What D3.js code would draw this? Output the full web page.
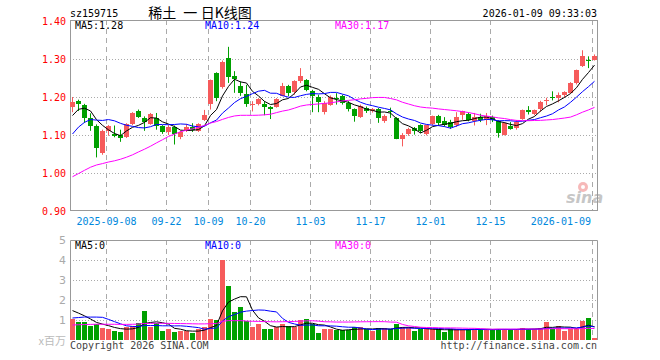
<!DOCTYPE html>
<html>
<head>
<meta charset="utf-8">
<script src="https://cdn.jsdelivr.net/npm/d3@7/dist/d3.min.js"></script>
<style>
  body { margin: 0; background: #fff; }
  svg text { font-family: "DejaVu Sans Mono", monospace; font-size: 10px; }
</style>
</head>
<body>
<svg id="chart" width="660" height="360"></svg>
<script>
// trading sessions shown on the chart
var dates = [
  '2025-08-29',
  '2025-09-01','2025-09-02','2025-09-03','2025-09-04','2025-09-05',
  '2025-09-08','2025-09-09','2025-09-10','2025-09-11','2025-09-12',
  '2025-09-15','2025-09-16','2025-09-17','2025-09-18','2025-09-19',
  '2025-09-22','2025-09-23','2025-09-24','2025-09-25','2025-09-26',
  '2025-09-29','2025-09-30','2025-10-09','2025-10-10',
  '2025-10-13','2025-10-14','2025-10-15','2025-10-16','2025-10-17',
  '2025-10-20','2025-10-21','2025-10-22','2025-10-23','2025-10-24',
  '2025-10-27','2025-10-28','2025-10-29','2025-10-30','2025-10-31',
  '2025-11-03','2025-11-04','2025-11-05','2025-11-06','2025-11-07',
  '2025-11-10','2025-11-11','2025-11-12','2025-11-13','2025-11-14',
  '2025-11-17','2025-11-18','2025-11-19','2025-11-20','2025-11-21',
  '2025-11-24','2025-11-25','2025-11-26','2025-11-27','2025-11-28',
  '2025-12-01','2025-12-02','2025-12-03','2025-12-04','2025-12-05',
  '2025-12-08','2025-12-09','2025-12-10','2025-12-11','2025-12-12',
  '2025-12-15','2025-12-16','2025-12-17','2025-12-18','2025-12-19',
  '2025-12-22','2025-12-23','2025-12-24','2025-12-25','2025-12-26',
  '2025-12-29','2025-12-30','2025-12-31',
  '2026-01-05','2026-01-06','2026-01-07','2026-01-08','2026-01-09'
];

var open = [1.173,1.189,1.180,1.145,1.123,1.053,1.111,1.103,1.101,1.094,
  1.129,1.164,1.146,1.129,1.145,1.123,1.108,1.121,1.094,1.110,
  1.120,1.110,1.140,1.180,1.263,1.225,1.303,1.256,1.228,1.209,
  1.178,1.182,1.182,1.174,1.173,1.204,1.230,1.213,1.241,1.244,
  1.215,1.199,1.160,1.180,1.197,1.202,1.184,1.168,1.147,1.171,
  1.162,1.168,1.139,1.164,1.145,1.090,1.104,1.118,1.125,1.101,
  1.127,1.151,1.136,1.133,1.125,1.151,1.156,1.136,1.147,1.139,
  1.147,1.136,1.101,1.123,1.116,1.142,1.167,1.156,1.168,1.192,
  1.201,1.195,1.204,1.212,1.235,1.282,1.297,1.298];
var high = [1.200,1.193,1.182,1.157,1.128,1.114,1.126,1.125,1.114,1.131,
  1.160,1.167,1.149,1.158,1.158,1.126,1.126,1.125,1.111,1.129,
  1.131,1.131,1.166,1.246,1.265,1.296,1.332,1.268,1.241,1.232,
  1.189,1.197,1.189,1.176,1.197,1.237,1.232,1.244,1.276,1.247,
  1.219,1.206,1.189,1.204,1.210,1.206,1.189,1.170,1.180,1.175,
  1.171,1.171,1.154,1.172,1.147,1.105,1.119,1.121,1.128,1.127,
  1.151,1.153,1.147,1.140,1.160,1.164,1.159,1.158,1.156,1.158,
  1.151,1.139,1.134,1.134,1.139,1.167,1.176,1.167,1.190,1.198,
  1.215,1.212,1.215,1.239,1.272,1.323,1.307,1.312];
var low = [1.160,1.163,1.132,1.111,1.041,1.048,1.098,1.094,1.082,1.092,
  1.126,1.145,1.111,1.127,1.114,1.103,1.100,1.075,1.089,1.108,
  1.108,1.108,1.137,1.167,1.189,1.222,1.237,1.211,1.203,1.174,
  1.162,1.178,1.152,1.142,1.172,1.202,1.202,1.206,1.237,1.215,
  1.160,1.160,1.154,1.177,1.180,1.180,1.162,1.135,1.145,1.158,
  1.159,1.132,1.132,1.145,1.089,1.070,1.098,1.101,1.105,1.099,
  1.125,1.125,1.122,1.116,1.121,1.140,1.136,1.125,1.134,1.126,
  1.134,1.093,1.099,1.114,1.114,1.140,1.154,1.152,1.161,1.178,
  1.191,1.186,1.198,1.209,1.233,1.279,1.276,1.296];
var close = [1.186,1.182,1.145,1.123,1.066,1.111,1.123,1.097,1.094,1.129,
  1.158,1.149,1.136,1.155,1.125,1.108,1.120,1.103,1.108,1.120,
  1.111,1.129,1.153,1.244,1.197,1.291,1.254,1.247,1.210,1.182,
  1.181,1.194,1.175,1.169,1.195,1.230,1.212,1.241,1.254,1.218,
  1.202,1.186,1.183,1.200,1.195,1.184,1.168,1.149,1.177,1.162,
  1.168,1.145,1.151,1.162,1.090,1.101,1.116,1.110,1.110,1.125,
  1.149,1.133,1.125,1.121,1.147,1.162,1.139,1.147,1.139,1.149,
  1.139,1.104,1.132,1.116,1.133,1.165,1.163,1.167,1.187,1.193,
  1.199,1.204,1.212,1.237,1.270,1.309,1.294,1.309];

// volume, millions of shares
var volume = [1.03,0.92,0.92,0.72,0.80,0.62,0.53,0.47,0.42,0.67,
  0.70,0.87,1.47,0.67,0.83,0.47,0.53,0.42,0.45,0.45,
  0.37,0.53,0.67,1.07,1.00,4.02,2.72,1.42,1.67,0.97,
  0.67,0.80,0.57,0.57,0.63,0.80,0.72,0.63,1.00,1.05,
  0.78,0.37,0.53,0.53,0.50,0.50,0.50,0.63,0.63,0.53,
  0.47,0.60,0.58,0.53,0.80,0.63,0.63,0.45,0.53,0.58,
  0.53,0.53,0.40,0.53,0.55,0.55,0.53,0.52,0.53,0.55,
  0.50,0.55,0.50,0.52,0.55,0.60,0.53,0.55,0.60,0.90,
  0.57,0.70,0.47,0.57,0.57,0.97,1.10,0.10];

// 29 sessions before the window, only used to warm up the moving averages
// (estimated back from where the MA lines start on the left edge)
var prevClose = [0.93,0.89,0.88,0.89,1.00,1.00,1.00,0.97,0.97,0.97,
  0.92,0.92,0.92,0.86,0.86,0.86,0.92,0.92,1.00,1.00,
  1.00,1.02,1.05,1.08,1.12,1.10,1.13,1.16,1.18];
var prevVolume = [0.55,0.60,0.50,0.58,0.62,0.55,0.50,0.60,0.65,0.55,
  0.52,0.60,0.58,0.55,0.62,0.60,0.55,0.58,0.60,0.60,
  0.70,0.65,0.75,0.80,0.75,1.55,1.60,1.50,1.67];

var priceTicks = [1.40, 1.30, 1.20, 1.10, 1.00, 0.90];
var volTicks = [1, 2, 3, 4, 5];
var dateTicks = ['2025-09-08','2025-09-22','2025-10-09','2025-10-20','2025-11-03',
  '2025-11-17','2025-12-01','2025-12-15','2026-01-09'];
var dateTickLabels = ['2025-09-08','09-22','10-09','10-20','11-03',
  '11-17','12-01','12-15','2026-01-09'];

var UP = '#f65b5b', DOWN = '#00a000', GRID = '#aaa', FRAME = '#999';
var maColors = {5: '#000', 10: '#0000ff', 30: '#ff00ff'};

function movingAvg(prev, vals, n) {
  var all = prev.concat(vals);
  return vals.map(function(v, i) {
    var j = i + prev.length;
    return d3.mean(all.slice(j - n + 1, j + 1));
  });
}

var svg = d3.select('#chart');
var left = 70, right = 597;

var x = d3.scaleBand().domain(dates).range([left, right])
  .paddingInner(1/6).paddingOuter(0);
var y = d3.scaleLinear().domain([0.9, 1.4]).range([211, 21]);
var yv = d3.scaleLinear().domain([0, 5]).range([340, 240]);
var cx = function(d) { return x(d) + x.bandwidth() / 2; };
var crisp = function(v) { return Math.round(v) + 0.5; };

// header
svg.append('text').attr('x', 70).attr('y', 16.5).text('sz159715');
svg.append('text').attr('x', 200).attr('y', 17.5)
  .attr('text-anchor', 'middle')
  .style('font-family', '"Noto Sans CJK SC", sans-serif').style('font-size', '14px')
  .style('white-space', 'pre')
  .text('稀土\u2002一\u2005日K线图');
svg.append('text').attr('x', right).attr('y', 16.5)
  .attr('text-anchor', 'end').text('2026-01-09 09:33:03');

// grids
var grid = svg.append('g').attr('class', 'grid');
grid.selectAll('line.hp').data(priceTicks.slice(1, -1)).enter()
  .append('line').attr('class', 'hp')
  .attr('x1', left).attr('x2', right)
  .attr('y1', function(d) { return crisp(y(d)); })
  .attr('y2', function(d) { return crisp(y(d)); })
  .attr('stroke', GRID).attr('stroke-dasharray', '1,2');
grid.selectAll('line.hv').data(volTicks.slice(0, -1)).enter()
  .append('line').attr('class', 'hv')
  .attr('x1', left).attr('x2', right)
  .attr('y1', function(d) { return crisp(yv(d)); })
  .attr('y2', function(d) { return crisp(yv(d)); })
  .attr('stroke', GRID).attr('stroke-dasharray', '1,2');
[[20, 211], [240, 340]].forEach(function(r) {
  grid.selectAll(null).data(dateTicks).enter()
    .append('line')
    .attr('x1', function(d) { return x(d) + 0.5; })
    .attr('x2', function(d) { return x(d) + 0.5; })
    .attr('y1', r[0]).attr('y2', r[1])
    .attr('stroke', GRID).attr('stroke-dasharray', '5,4');
});

// frames
svg.append('rect').attr('x', left + 0.5).attr('y', 20.5)
  .attr('width', right - left).attr('height', 190)
  .attr('fill', 'none').attr('stroke', FRAME);
svg.append('path')
  .attr('d', 'M' + (left + 0.5) + ',340V240.5H' + (right + 0.5) + 'V340')
  .attr('fill', 'none').attr('stroke', FRAME);

// price axis labels
svg.selectAll('text.pt').data(priceTicks).enter()
  .append('text').attr('class', 'pt')
  .attr('x', 66).attr('y', function(d) { return y(d) + 3.5; })
  .attr('text-anchor', 'end').attr('fill', '#ff0000')
  .text(function(d) { return d.toFixed(2); });

// date labels
svg.selectAll('text.dt').data(dateTicks).enter()
  .append('text').attr('class', 'dt')
  .attr('y', 225).attr('fill', '#0088dd')
  .attr('x', function(d) { return x(d) + 0.5; })
  .attr('text-anchor', 'middle')
  .text(function(d, i) { return dateTickLabels[i]; })
  .each(function() {
    var b = this.getBBox();
    if (b.x + b.width > right - 6) {
      d3.select(this).attr('text-anchor', 'end').attr('x', right - 6);
    }
  });

// volume axis labels
svg.selectAll('text.vt').data(volTicks).enter()
  .append('text').attr('class', 'vt')
  .attr('x', 66).attr('y', function(d) { return yv(d) + 4; })
  .attr('text-anchor', 'end').attr('fill', '#aaa')
  .style('font-family', '"DejaVu Sans", sans-serif').style('font-size', '11px')
  .text(function(d) { return d; });
svg.append('text').attr('x', 66).attr('y', 345)
  .attr('text-anchor', 'end').attr('fill', '#bbb')
  .style('font-family', '"Noto Sans CJK SC", sans-serif').style('font-size', '11px')
  .text('x百万');

// candles
var isUp = function(i) { return close[i] >= open[i]; };
var candles = svg.append('g').selectAll('g').data(dates).enter().append('g');
candles.append('line')
  .attr('x1', function(d) { return cx(d); })
  .attr('x2', function(d) { return cx(d); })
  .attr('y1', function(d, i) { return y(high[i]); })
  .attr('y2', function(d, i) { return y(low[i]); })
  .attr('stroke', function(d, i) { return isUp(i) ? UP : DOWN; });
candles.append('rect')
  .attr('x', function(d) { return x(d); })
  .attr('width', x.bandwidth())
  .attr('y', function(d, i) { return Math.round(y(Math.max(open[i], close[i]))); })
  .attr('height', function(d, i) {
    return Math.max(1, Math.round(Math.abs(y(open[i]) - y(close[i]))));
  })
  .attr('fill', function(d, i) { return isUp(i) ? UP : DOWN; });

// volume bars
svg.append('g').selectAll('rect').data(dates).enter()
  .append('rect')
  .attr('x', function(d) { return x(d); })
  .attr('width', x.bandwidth())
  .attr('y', function(d, i) { return Math.round(yv(volume[i])); })
  .attr('height', function(d, i) { return 340 - Math.round(yv(volume[i])); })
  .attr('fill', function(d, i) { return isUp(i) ? UP : DOWN; });

// moving average lines
var priceMA = {}, volMA = {};
[5, 10, 30].forEach(function(n) {
  priceMA[n] = movingAvg(prevClose, close, n);
  volMA[n] = movingAvg(prevVolume, volume, n);

  svg.append('path').datum(priceMA[n])
    .attr('fill', 'none').attr('stroke', maColors[n]).attr('stroke-width', 1)
    .attr('d', d3.line()
      .x(function(d, i) { return cx(dates[i]); })
      .y(function(d) { return y(d); }));
  svg.append('path').datum(volMA[n])
    .attr('fill', 'none').attr('stroke', maColors[n]).attr('stroke-width', 1)
    .attr('d', d3.line()
      .x(function(d, i) { return cx(dates[i]); })
      .y(function(d) { return yv(d); }));
});

// legends
var legendX = {5: 75, 10: 205, 30: 335};
[5, 10, 30].forEach(function(n) {
  svg.append('text').attr('x', legendX[n]).attr('y', 29)
    .attr('fill', maColors[n])
    .text('MA' + n + ':' + priceMA[n][priceMA[n].length - 1].toFixed(2));
  svg.append('text').attr('x', legendX[n]).attr('y', 249)
    .attr('fill', maColors[n])
    .text('MA' + n + ':0');
});

// sina mark
var logo = svg.append('g').attr('opacity', 0.55);
logo.append('circle').attr('cx', 583).attr('cy', 187).attr('r', 5).attr('fill', '#f08080');
logo.append('circle').attr('cx', 583).attr('cy', 187).attr('r', 2).attr('fill', '#fff');
logo.append('text').attr('x', 566).attr('y', 203)
  .style('font-family', '"DejaVu Sans", sans-serif').style('font-size', '16px')
  .style('font-style', 'italic').style('font-weight', 'bold')
  .attr('fill', '#999').text('sina');

// footer
svg.append('text').attr('x', 70).attr('y', 349).attr('fill', '#444')
  .text('Copyright 2026 SINA.COM');
svg.append('text').attr('x', right).attr('y', 349).attr('fill', '#444')
  .attr('text-anchor', 'end').text('http://finance.sina.com.cn');
</script>
</body>
</html>
